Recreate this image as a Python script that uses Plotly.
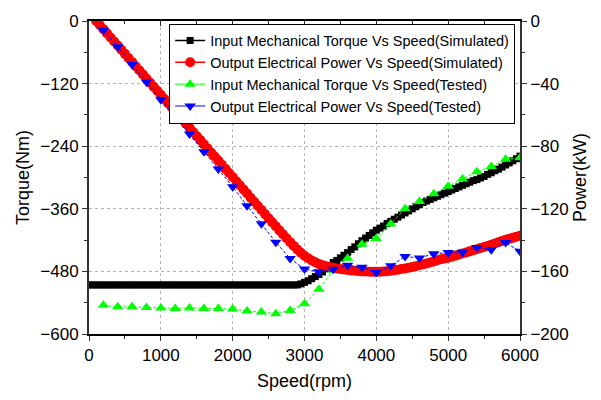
import plotly.graph_objects as go

# ---- data ----
speed_sim_torque = [i * 50 for i in range(0, 121)]
torque_sim = [-506, -506, -506, -506, -506, -506, -506, -506, -506, -506,
              -506, -506, -506, -506, -506, -506, -506, -506, -506, -506,
              -506, -506, -506, -506, -506, -506, -506, -506, -506, -506,
              -506, -506, -506, -506, -506, -506, -506, -506, -506, -506,
              -506, -506, -506, -506, -506, -506, -506, -506, -506, -506,
              -506, -506, -506, -506, -506, -506, -506, -506, -506,
              -504, -501, -498, -494, -490, -486, -481, -475, -469, -463,
              -459, -454, -449, -444, -438, -433, -427, -421, -416, -411,
              -406, -401, -397, -393, -388, -384, -380, -376, -372, -368,
              -364, -360, -356, -352, -348, -345, -342, -339, -336, -333,
              -330, -327, -324, -321, -318, -315, -312, -309, -306, -304,
              -301, -298, -294, -291, -287, -284, -280, -276, -272, -268,
              -264, -259]

speed_sim_power = [100 + i * 50 for i in range(0, 119)]
power_sim = [0, -2.6, -5.2, -7.9, -10.5, -13.1, -15.7, -18.4, -21, -23.6,
             -26.2, -28.9, -31.5, -34.1, -36.7, -39.4, -42, -44.6, -47.2, -49.9,
             -52.5, -55.1, -57.7, -60.4, -63, -65.6, -68.2, -70.9, -73.5, -76.1,
             -78.7, -81.4, -84, -86.6, -89.2, -91.9, -94.5, -97.1, -99.7, -102.4,
             -105, -107.6, -110.2, -112.9, -115.5, -118.1, -120.7, -123.4, -126, -128.6,
             -131.2, -133.8, -136.3, -138.8, -141.3, -143.7, -146, -148.1, -150, -151.6,
             -153, -154.2, -155.2, -156, -156.7, -157.2, -157.7, -158.1, -158.5, -158.8,
             -159.1, -159.4, -159.6, -159.8, -160, -160.1, -160.2, -160.3, -160.3, -160.2,
             -160.1, -159.9, -159.6, -159.3, -158.9, -158.5, -158.1, -157.7, -157.2, -156.7,
             -156.1, -155.5, -154.9, -154.3, -153.6, -152.9, -152.3, -151.8, -151.2, -150.6,
             -149.9, -149.2, -148.5, -147.9, -147.2, -146.5, -145.8, -145.1, -144.4, -143.7,
             -142.9, -142.2, -141.4, -140.6, -139.8, -139.2, -138.5, -137.9, -137.2]

speed_test = [i * 200 for i in range(1, 31)]
torque_test = [-545, -548, -548, -549, -550, -551, -550, -551, -551, -552,
               -556, -558, -561, -555, -542, -514, -478, -455, -428, -417,
               -389, -360, -346, -331, -317, -303, -289, -279, -265, -262]
power_test = [-5.9, -16.4, -27.8, -38.9, -50.3, -61.1, -72.2, -83.6, -94.5, -105.9,
              -118, -129.5, -141.3, -151.8, -158.5, -160.3, -158.6, -156.1, -157.4, -160.7,
              -156.4, -150.5, -151.4, -148.8, -148, -147.7, -144.7, -146.1, -141.6, -147.2]

x_ticks = [0, 1000, 2000, 3000, 4000, 5000, 6000]
torque_ticks = [-600, -480, -360, -240, -120, 0]
power_ticks = [-200, -160, -120, -80, -40, 0]

names = ["Input Mechanical Torque Vs Speed(Simulated)",
         "Output Electrical Power Vs Speed(Simulated)",
         "Input Mechanical Torque Vs Speed(Tested)",
         "Output Electrical Power Vs Speed(Tested)"]

FONT = "Arial, Liberation Sans, sans-serif"
AX = "#333333"
GREEN = "#00ff00"
BLUE = "#0000ff"
RED = "#ff0000"

fig = go.Figure()
fig.add_trace(go.Scatter(
    x=speed_sim_torque, y=torque_sim, mode="lines+markers", name=names[0],
    line=dict(color="black", width=1.5),
    marker=dict(symbol="square", size=7, color="black"),
    legendrank=1))
fig.add_trace(go.Scatter(
    x=speed_test, y=torque_test, mode="lines+markers", name=names[2],
    line=dict(color=GREEN, width=1, dash="3px,2px"),
    marker=dict(symbol="triangle-up", size=10, color=GREEN),
    showlegend=False))
fig.add_trace(go.Scatter(
    x=speed_sim_power, y=power_sim, mode="lines+markers", yaxis="y2", name=names[1],
    line=dict(color=RED, width=1.5),
    marker=dict(symbol="circle", size=10, color=RED),
    legendrank=2))
fig.add_trace(go.Scatter(
    x=speed_test, y=power_test, mode="lines+markers", yaxis="y2", name=names[3],
    line=dict(color=BLUE, width=1, dash="3px,2px"),
    marker=dict(symbol="triangle-down", size=10, color=BLUE),
    showlegend=False))
# legend entries with solid lines (as in the reference legend)
fig.add_trace(go.Scatter(
    x=[None], y=[None], mode="lines+markers", name=names[2],
    line=dict(color=GREEN, width=1), marker=dict(symbol="triangle-up", size=10, color=GREEN),
    legendrank=3))
fig.add_trace(go.Scatter(
    x=[None], y=[None], mode="lines+markers", name=names[3],
    line=dict(color=BLUE, width=1), marker=dict(symbol="triangle-down", size=10, color=BLUE),
    legendrank=4))
# invisible trace to activate the top axis
fig.add_trace(go.Scatter(x=[0], y=[0], xaxis="x2", mode="markers",
                         marker=dict(opacity=0), showlegend=False, hoverinfo="skip"))

fig.update_layout(
    width=601, height=400,
    margin=dict(l=89, r=81, t=20, b=60),
    paper_bgcolor="white", plot_bgcolor="white",
    font=dict(family=FONT, size=16, color="black"),
    showlegend=True,
    legend=dict(x=0.186, y=0.992, xanchor="left", yanchor="top",
                bgcolor="white", bordercolor="black", borderwidth=1,
                font=dict(size=14.5, family=FONT), itemwidth=30,
                tracegroupgap=0),
    xaxis=dict(range=[0, 6000], tickvals=x_ticks, ticks="outside", ticklen=5,
               tickcolor=AX, showline=True, linecolor="black", linewidth=1.5,
               showgrid=True, gridcolor="#b4b4b4", griddash="3px,3px", gridwidth=1,
               zeroline=False, tickfont=dict(size=17),
               minor=dict(dtick=500, ticks="outside", ticklen=3, tickcolor=AX, showgrid=False),
               title=dict(text="Speed(rpm)", font=dict(size=18), standoff=10)),
    xaxis2=dict(range=[0, 6000], overlaying="x", side="top", showline=True,
                linecolor="black", linewidth=1.5, tickvals=x_ticks, ticks="inside",
                ticklen=5, tickcolor=AX, showticklabels=False, showgrid=False,
                zeroline=False,
                minor=dict(dtick=500, ticks="inside", ticklen=3, tickcolor=AX)),
    yaxis=dict(range=[-600, 0], tickvals=torque_ticks, ticks="outside", ticklen=5,
               tickcolor=AX, showline=True, linecolor=AX, linewidth=2,
               showgrid=True, gridcolor="#b4b4b4", griddash="3px,3px", gridwidth=1,
               zeroline=False, tickfont=dict(size=17),
               minor=dict(dtick=60, ticks="outside", ticklen=3, tickcolor=AX, showgrid=False),
               title=dict(text="Torque(Nm)", font=dict(size=18), standoff=6)),
    yaxis2=dict(range=[-200, 0], overlaying="y", side="right", tickvals=power_ticks,
                ticks="outside", ticklen=5, tickcolor=AX, showline=True, linecolor=AX,
                linewidth=2, showgrid=False, zeroline=False, tickfont=dict(size=17),
                minor=dict(dtick=20, ticks="outside", ticklen=3, tickcolor=AX),
                title=dict(text="Power(kW)", font=dict(size=18), standoff=6)),
)

fig.write_html("out.html")
